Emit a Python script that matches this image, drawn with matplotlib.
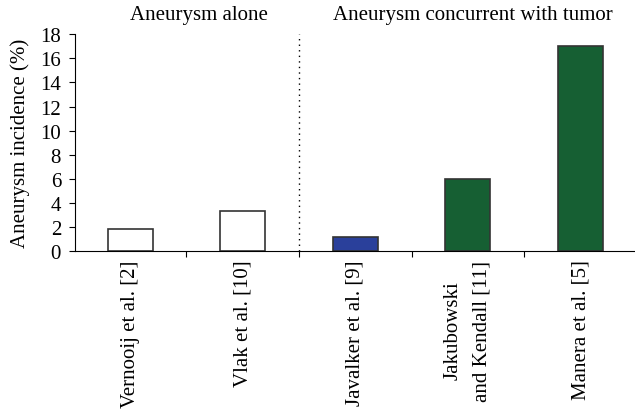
import matplotlib.pyplot as plt

studies = ["Vernooij et al. [2]", "Vlak et al. [10]", "Javalker et al. [9]",
           "Jakubowski\nand Kendall [11]", "Manera et al. [5]"]
incidence = [1.8, 3.3, 1.2, 6.0, 17.0]
bar_colors = ["white", "white", "#2a409b", "#165f33", "#165f33"]
group_titles = ["Aneurysm alone", "Aneurysm concurrent with tumor"]

plt.rcParams['font.family'] = ['Liberation Serif', 'DejaVu Serif']
fs = 15

fig = plt.figure(figsize=(6.35, 4.14), dpi=100)
ax = fig.add_axes([0.118, 0.391, 0.885, 0.524])

x = range(len(studies))
ax.bar(x, incidence, width=0.4, color=bar_colors, edgecolor="#333333", linewidth=1.2)

ax.set_xlim(-0.49, 4.5)
ax.set_ylim(0, 18)
ax.set_yticks(range(0, 19, 2))
ax.tick_params(axis='y', labelsize=fs, length=4, direction='out', pad=6)
ax.set_ylabel("Aneurysm incidence (%)", fontsize=fs, labelpad=7)

# ticks sit between categories, labels under each bar
ax.set_xticks([0.5, 1.5, 2.5, 3.5])
ax.set_xticklabels([])
ax.tick_params(axis='x', length=4, direction='out')
for i, name in enumerate(studies):
    ax.text(i, -0.7, name, rotation=90, ha='center', va='top', fontsize=fs,
            multialignment='center', linespacing=1.7)

ax.spines['top'].set_visible(False)
ax.spines['right'].set_visible(False)

# divider between groups
ax.axvline(1.5, color='black', linestyle=(0, (1, 3)), linewidth=1.0)

ax.text(0.61, 19.25, group_titles[0], ha='center', va='baseline', fontsize=fs)
ax.text(3.04, 19.25, group_titles[1], ha='center', va='baseline', fontsize=fs)

fig.savefig("out.png", dpi=100)
